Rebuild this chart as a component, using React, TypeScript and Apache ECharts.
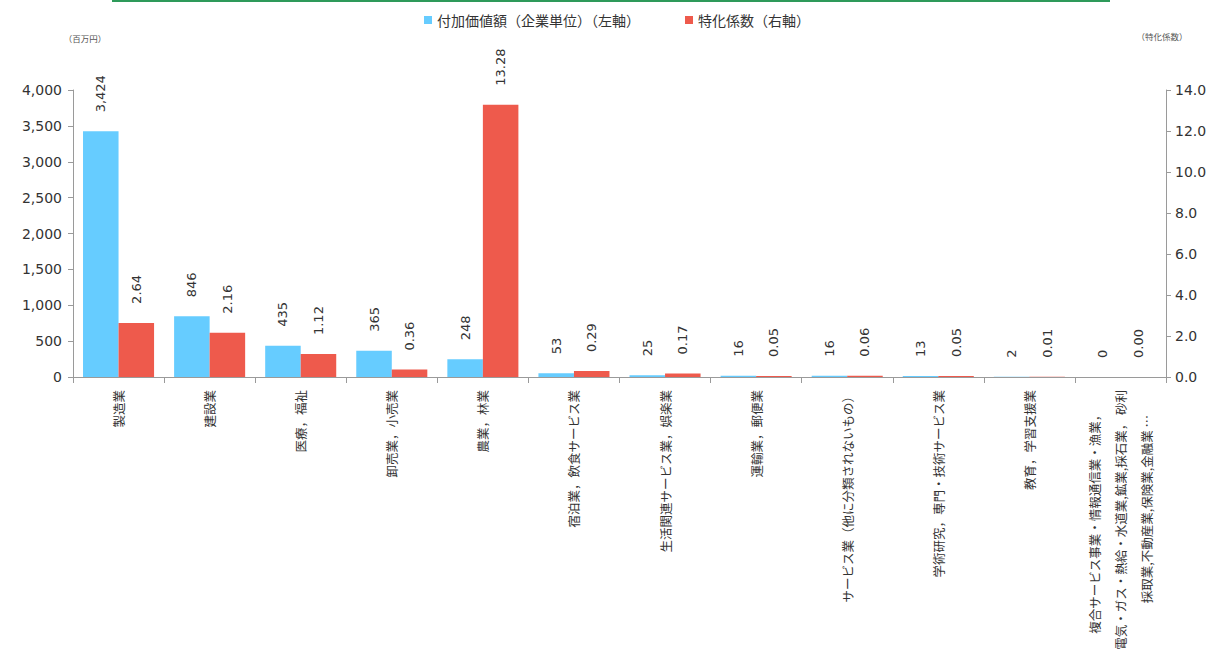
import React, { useEffect, useRef } from "react";
import * as echarts from "echarts";

const categories: string[] = [
  "製造業",
  "建設業",
  "医療，福祉",
  "卸売業，小売業",
  "農業，林業",
  "宿泊業，飲食サービス業",
  "生活関連サービス業，娯楽業",
  "運輸業，郵便業",
  "サービス業（他に分類されないもの）",
  "学術研究，専門・技術サービス業",
  "教育，学習支援業",
  "複合サービス事業・情報通信業・漁業，\n電気・ガス・熱給・水道業,鉱業,採石業， 砂利\n採取業,不動産業,保険業,金融業 …",
];

const valueAdded: number[] = [3424, 846, 435, 365, 248, 53, 25, 16, 16, 13, 2, 0];
const specialization: number[] = [2.64, 2.16, 1.12, 0.36, 13.28, 0.29, 0.17, 0.05, 0.06, 0.05, 0.01, 0.0];

const seriesNames: string[] = ["付加価値額（企業単位）（左軸）", "特化係数（右軸）"];
const leftAxisName = "（百万円）";
const rightAxisName = "（特化係数）";

const NUM_FONT = '"DejaVu Sans", "Noto Sans CJK JP", sans-serif';
const JP_FONT = '"Noto Sans CJK JP", "DejaVu Sans", sans-serif';
const TEXT = "#333333";
const AXIS = "#9a9a9a";

// Centre the wrapped lines of a multi-line label (Excel centres them):
// the rotated label ends at the axis, so shorter lines get ideographic
// spaces at their end.
function categoryLabel(name: string): string {
  if (!name.includes("\n")) return name;
  const lines = name.split("\n");
  const maxLen = Math.max(...lines.map((l) => Array.from(l).length));
  return lines
    .map((l) => {
      const n = Math.floor((maxLen - Array.from(l).length) / 2);
      return l + "\u3000".repeat(n);
    })
    .join("\n");
}

export default function App() {
  const ref = useRef<HTMLDivElement>(null);

  useEffect(() => {
    if (!ref.current) return;
    const chart = echarts.init(ref.current, null, { renderer: "svg" });
    chart.setOption({
      animation: false,
      backgroundColor: "#ffffff",
      legend: {
        top: 8,
        left: 419,
        icon: "rect",
        itemWidth: 8,
        itemHeight: 8,
        itemGap: 45,
        textStyle: { fontFamily: JP_FONT, fontSize: 14, color: TEXT },
        data: seriesNames,
      },
      grid: { left: 73, right: 55, top: 90, bottom: 284, containLabel: false },
      xAxis: {
        type: "category",
        data: categories,
        axisLine: { lineStyle: { color: AXIS } },
        axisTick: { show: true, length: 6, lineStyle: { color: AXIS } },
        axisLabel: {
          interval: 0,
          rotate: 90,
          margin: 13,
          fontSize: 12.5,
          lineHeight: 26,
          fontFamily: JP_FONT,
          color: TEXT,
          formatter: categoryLabel,
        },
      },
      yAxis: [
        {
          type: "value",
          min: 0,
          max: 4000,
          interval: 500,
          axisLine: { show: true, lineStyle: { color: AXIS } },
          axisTick: { show: true, length: 5, lineStyle: { color: AXIS } },
          splitLine: { show: false },
          axisLabel: {
            margin: 11,
            color: TEXT,
            fontSize: 14,
            fontFamily: NUM_FONT,
            formatter: (v: number) => v.toLocaleString("en-US"),
          },
        },
        {
          type: "value",
          position: "right",
          min: 0,
          max: 14,
          interval: 2,
          axisLine: { show: true, lineStyle: { color: AXIS } },
          axisTick: { show: true, length: 5, lineStyle: { color: AXIS } },
          splitLine: { show: false },
          axisLabel: {
            margin: 9,
            color: TEXT,
            fontSize: 14,
            fontFamily: NUM_FONT,
            formatter: (v: number) => v.toFixed(1),
          },
        },
      ],
      series: [
        {
          name: seriesNames[0],
          type: "bar",
          yAxisIndex: 0,
          data: valueAdded,
          barGap: "0%",
          barCategoryGap: "22%",
          itemStyle: { color: "#66CCFF" },
          label: {
            show: true,
            position: "top",
            rotate: 90,
            align: "left",
            verticalAlign: "middle",
            distance: 19,
            fontSize: 13,
            fontFamily: NUM_FONT,
            color: TEXT,
            formatter: (p: any) => Number(p.value).toLocaleString("en-US"),
          },
        },
        {
          name: seriesNames[1],
          type: "bar",
          yAxisIndex: 1,
          data: specialization,
          barGap: "0%",
          barCategoryGap: "22%",
          itemStyle: { color: "#EE5A4C" },
          label: {
            show: true,
            position: "top",
            rotate: 90,
            align: "left",
            verticalAlign: "middle",
            distance: 19,
            fontSize: 13,
            fontFamily: NUM_FONT,
            color: TEXT,
            formatter: (p: any) => Number(p.value).toFixed(2),
          },
        },
      ],
      graphic: [
        {
          type: "rect",
          left: 112,
          top: 0,
          shape: { width: 998, height: 2 },
          style: { fill: "#2E9A5A" },
          silent: true,
        },
        {
          type: "text",
          x: 85,
          y: 38,
          style: {
            text: leftAxisName,
            fontSize: 8.5,
            fontFamily: JP_FONT,
            fill: "#555555",
            align: "center",
            verticalAlign: "middle",
          },
        },
        {
          type: "text",
          x: 1162,
          y: 36,
          style: {
            text: rightAxisName,
            fontSize: 8.5,
            fontFamily: JP_FONT,
            fill: "#555555",
            align: "center",
            verticalAlign: "middle",
          },
        },
      ],
    });
    return () => chart.dispose();
  }, []);

  return (
    <div
      ref={ref}
      style={{ position: "fixed", left: 0, top: 0, width: 1221, height: 661 }}
    />
  );
}
